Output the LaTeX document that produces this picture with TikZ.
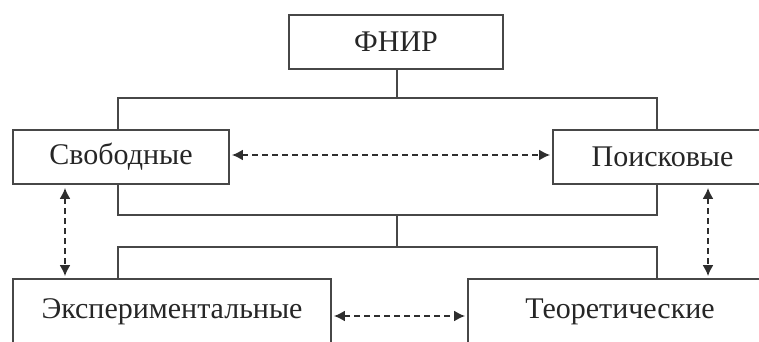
\documentclass[tikz,border=0pt]{standalone}
\usepackage{fontspec}
\setmainfont{Liberation Serif}
\usetikzlibrary{arrows.meta}
\begin{document}
\begin{tikzpicture}[x=1pt,y=1pt,
 box/.style={draw=black!72,line width=1.8pt,inner sep=0pt,font=\fontsize{30}{30}\selectfont,text=black!85},
 link/.style={draw=black!72,line width=1.3pt},
 rel/.style={draw=black!82,line width=1.8pt,dash pattern=on 6pt off 4pt,{Latex[length=11pt,width=11pt]}-{Latex[length=11pt,width=11pt]}}]
\useasboundingbox (0,0) rectangle (759,341);
\clip (0,0) rectangle (759,341);
\node[box,minimum width=214,minimum height=54] (fnir) at (396,299) {ФНИР};
\node[box,minimum width=216,minimum height=54] (svob) at (121,184) {Свободные};
\node[box,minimum width=219,minimum height=54] (pois) at (662.5,184) {Поисковые};
\node[box,minimum width=318,minimum height=66] (exp) at (172,29) {Экспериментальные};
\node[box,minimum width=304,minimum height=66] (teor) at (620,29) {Теоретические};
% top tree
\coordinate (j1) at (397,243);
\coordinate (jl) at (118,243);
\coordinate (jr) at (657,243);
\draw[link] (fnir.south -| j1) -- (j1);
\draw[link] (jl |- svob.north) -- (jl) -- (jr) -- (jr |- pois.north);
% middle tree
\coordinate (b1) at (118,126);
\coordinate (b2) at (657,126);
\coordinate (m) at (397,126);
\coordinate (m2) at (397,94);
\coordinate (c1) at (118,94);
\coordinate (c2) at (657,94);
\draw[link] (b1 |- svob.south) -- (b1) -- (b2) -- (b2 |- pois.south);
\draw[link] (m) -- (m2);
\draw[link] (c1 |- exp.north) -- (c1) -- (c2) -- (c2 |- teor.north);
% dashed relations
\coordinate (ht) at (0,186);
\coordinate (hb) at (0,25);
\coordinate (vl) at (65,0);
\coordinate (vr) at (708,0);
\draw[rel,shorten <=2pt,shorten >=2pt] (svob.east |- ht) -- (pois.west |- ht);
\draw[rel,shorten <=2pt,shorten >=2pt] (exp.east |- hb) -- (teor.west |- hb);
\draw[rel,shorten <=3pt,shorten >=2pt] (svob.south -| vl) -- (exp.north -| vl);
\draw[rel,shorten <=3pt,shorten >=2pt] (pois.south -| vr) -- (teor.north -| vr);
\end{tikzpicture}
\end{document}
